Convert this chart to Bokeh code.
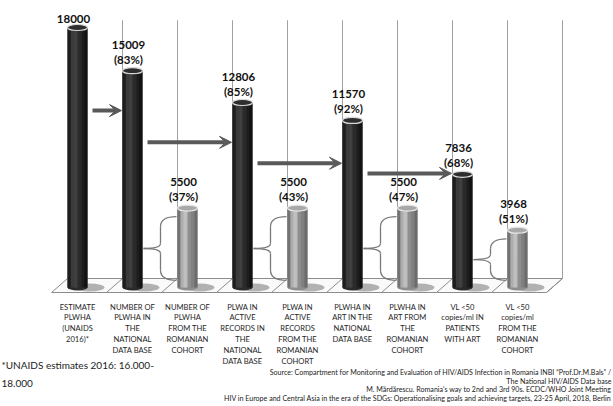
from bokeh.plotting import figure
from bokeh.models import ColumnDataSource, Arrow, VeeHead, Range1d
from bokeh.core.properties import value
from bokeh.embed import file_html
from bokeh.resources import INLINE

# ---------------- data ----------------
categories = [
    "ESTIMATE\nPLWHA\n(UNAIDS\n2016)*",
    "NUMBER OF\nPLWHA IN\nTHE\nNATIONAL\nDATA BASE",
    "NUMBER OF\nPLWHA\nFROM THE\nROMANIAN\nCOHORT",
    "PLWA IN\nACTIVE\nRECORDS IN\nTHE\nNATIONAL\nDATA BASE",
    "PLWA IN\nACTIVE\nRECORDS\nFROM THE\nROMANIAN\nCOHORT",
    "PLWHA IN\nART IN THE\nNATIONAL\nDATA BASE",
    "PLWHA IN\nART FROM\nTHE\nROMANIAN\nCOHORT",
    "VL <50\ncopies/ml IN\nPATIENTS\nWITH ART",
    "VL <50\ncopies/ml\nFROM THE\nROMANIAN\nCOHORT",
]
values = [18000, 15009, 5500, 12806, 5500, 11570, 5500, 7836, 3968]
percent_labels = ["", "(83%)", "(37%)", "(85%)", "(43%)", "(92%)", "(47%)", "(68%)", "(51%)"]
is_cohort = [False, False, True, False, True, False, True, False, True]
arrow_from = [0, 1, 3, 5]
arrow_to = [1, 3, 5, 7]
arrow_levels = [12250, 10050, 8600, 7900]
wall_top = 18500
footnote_left = ["*UNAIDS estimates 2016: 16.000-", "18.000"]
source_lines = [
    "Source: Compartment for Monitoring and Evaluation of HIV/AIDS Infection in Romania INBI \u201cProf.Dr.M.Bals\u201d /",
    "The National HIV/AIDS Data base",
    "M. M\u0103rd\u0103rescu. Romania's way to 2nd and 3rd 90s. ECDC/WHO Joint Meeting",
    "HIV in Europe and Central Asia in the era of the SDGs: Operationalising goals and achieving targets, 23-25 April, 2018, Berlin",
]

# ---------------- layout helpers ----------------
W, H = 613, 406
OFF = 0                     # page offset of the canvas
PX_X = 55.0                 # pixels per category
VPX = 18000 / 260.0         # value units per pixel
x0 = (OFF - 22) / PX_X
x1 = x0 + W / PX_X
y1 = (287 - OFF) * VPX
y0 = y1 - H * VPX

def X(px):
    return (px - 22) / PX_X

def Y(py):
    return (287 - py) * VPX

dx = lambda px: px / PX_X
dy = lambda px: px * VPX

p = figure(width=W, height=H, output_backend="svg", toolbar_location=None,
           x_range=Range1d(x0, x1), y_range=Range1d(y0, y1), min_border=0)
p.axis.visible = False
p.grid.visible = False
p.outline_line_color = None
p.background_fill_color = "white"
p.border_fill_color = "white"

n = len(values)
xs = [i + 1 for i in range(n)]

# ---------------- floor / walls ----------------
back_y = dy(9)
front_y = -dy(5)
shift = dx(16)
left_back = X(67)
grid_x = [x + dx(45) for x in xs]
p.patch([left_back, grid_x[-1], grid_x[-1] - shift, left_back - shift],
        [back_y, back_y, front_y, front_y], fill_color="#fafafa",
        line_color="#8c8c8c", line_width=1)
p.multi_line([[g, g - shift] for g in grid_x], [[back_y, front_y]] * n,
             line_color="#8c8c8c", line_width=1)
p.segment(x0=grid_x, y0=[back_y] * n, x1=grid_x, y1=[wall_top] * n,
          line_color="#a0a0a0", line_width=1)

# shadows on the floor
p.ellipse(x=[x + dx(12) for x in xs], y=[0] * n, width=dx(30), height=dy(8),
          fill_color="#444444", fill_alpha=0.4, line_color=None)

# ---------------- braces ----------------
for i in range(n):
    if not is_cohort[i]:
        continue
    c = xs[i]
    top = values[i] - 600
    bot = 500
    mid = (top + bot) / 2
    xr, xsn, xl = c - dx(11), c - dx(27), c - dx(44)
    ry = dy(5)
    q_x0 = [xr, xsn, xsn, xr]
    q_y0 = [top, mid + ry, mid - ry, bot]
    q_x1 = [xsn, xl, xl, xsn]
    q_y1 = [top - 2 * ry, mid, mid, bot + 2 * ry]
    q_cx = [xsn, xsn, xsn, xsn]
    q_cy = [top, mid, mid, bot]
    p.quadratic(x0=q_x0, y0=q_y0, x1=q_x1, y1=q_y1, cx=q_cx, cy=q_cy,
                line_color="#7a7a7a", line_width=1.3)
    p.segment(x0=[xsn, xsn], y0=[top - 2 * ry, mid - ry], x1=[xsn, xsn],
              y1=[mid + ry, bot + 2 * ry], line_color="#7a7a7a", line_width=1.3)

# ---------------- cylinders ----------------
bw = dx(20)
for i in range(n):
    c = xs[i]
    v = values[i]
    if is_cohort[i]:
        base, top_fill, rim = "#8e8e8e", "#a8a8a8", "#e6e6e6"
        shades = [(-8.5, 3, "#707070", 0.9), (-4.5, 5, "#b0b0b0", 0.9),
                  (-2, 4, "#c2c2c2", 0.9), (5.5, 4, "#7a7a7a", 0.7),
                  (8.5, 3, "#686868", 0.9)]
    else:
        base, top_fill, rim = "#2a2a2a", "#2e2e2e", "#d8d8d8"
        shades = [(-8.5, 3, "#1c1c1c", 0.9), (-4, 5, "#3c3c3c", 0.9),
                  (-1.5, 3, "#444444", 0.8), (6, 4, "#1a1a1a", 0.8),
                  (8.5, 3, "#111111", 0.9)]
    p.ellipse(x=[c], y=[0], width=bw, height=dy(6), fill_color=base, line_color=None)
    p.vbar(x=[c], top=[v], bottom=[0], width=bw, fill_color=base, line_color=None)
    for off, w, col, a in shades:
        p.vbar(x=[c + dx(off)], top=[v], bottom=[0], width=dx(w),
               fill_color=col, fill_alpha=a, line_color=None)
    p.ellipse(x=[c], y=[v], width=bw, height=dy(6), fill_color=top_fill,
              line_color=rim, line_width=1.2)

# ---------------- arrows ----------------
arr_src = ColumnDataSource(dict(
    xs=[xs[a] + bw / 2 + dx(5) for a in arrow_from],
    xe=[xs[b] - bw / 2 - dx(1) for b in arrow_to],
    y=arrow_levels))
p.add_layout(Arrow(source=arr_src, x_start="xs", y_start="y", x_end="xe", y_end="y",
                   line_color="#595959", line_width=4,
                   end=VeeHead(size=12, fill_color="#595959", line_color="#595959",
                               line_width=1)))

# ---------------- value labels ----------------
val_text = [f"{v}" if pl == "" else f"{v}\n{pl}" for v, pl in zip(values, percent_labels)]
p.text(x=xs, y=values, text=val_text, text_align="center", text_baseline="bottom",
       x_offset=-4, y_offset=-5, text_font=value("Lato"), text_font_style="bold",
       text_font_size="11.5px", text_color="#111111", text_line_height=1.15)

# ---------------- category labels ----------------
p.text(x=xs, y=[0] * n, text=categories, text_align="center", text_baseline="top",
       y_offset=14, text_font=value("Lato"), text_font_size="7.6px",
       text_color="#262626", text_line_height=1.09)

# ---------------- footnotes ----------------
p.text(x=[X(1)], y=[Y(366)], text=[footnote_left[0] + "\n" + footnote_left[1]],
       text_align="left", text_baseline="middle", text_font=value("Lato"),
       text_font_size="10px", text_color="#222222", text_line_height=1.5,
       y_offset=7)
src_y = [Y(372), Y(380.5), Y(389), Y(397.5)]
p.text(x=[X(611)] * 4, y=src_y, text=source_lines, text_align="right",
       text_baseline="middle", text_font=value("Lato"), text_font_size="7.1px",
       text_color="#222222")

open("out.html", "w").write(file_html(p, INLINE))
